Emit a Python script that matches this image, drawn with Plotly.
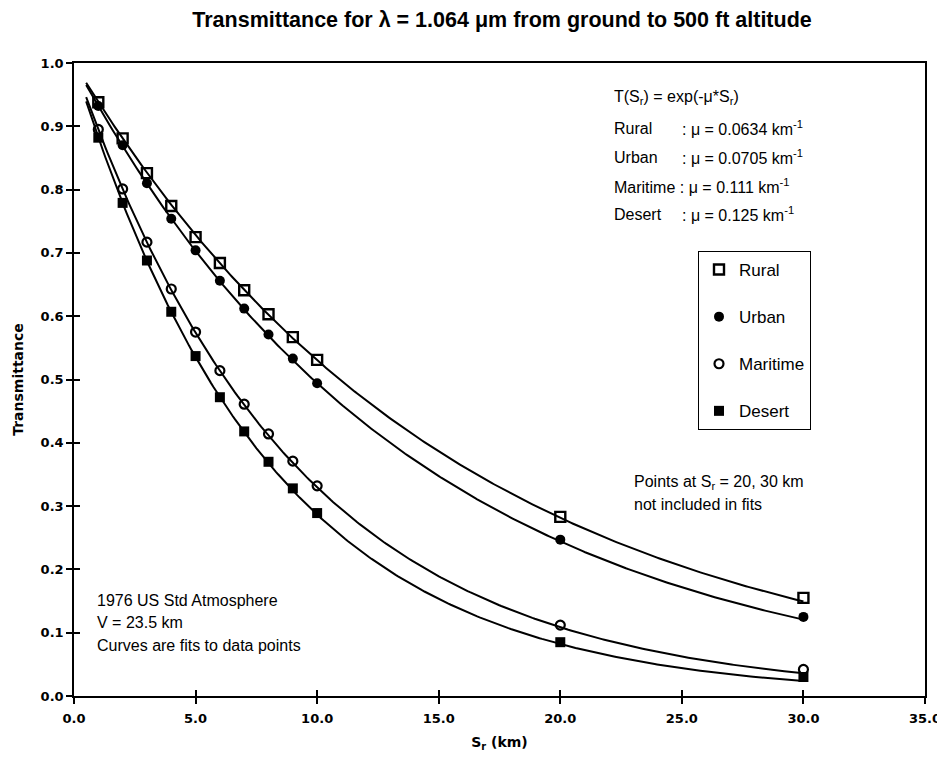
import numpy as np
import plotly.graph_objects as go

# ---- data ----
s_points = [1, 2, 3, 4, 5, 6, 7, 8, 9, 10, 20, 30]
rural = [0.938, 0.881, 0.826, 0.774, 0.725, 0.684, 0.641, 0.603, 0.567, 0.531, 0.283, 0.155]
urban = [0.932, 0.870, 0.810, 0.754, 0.704, 0.656, 0.612, 0.571, 0.533, 0.494, 0.247, 0.125]
maritime = [0.895, 0.801, 0.717, 0.643, 0.575, 0.514, 0.461, 0.414, 0.371, 0.332, 0.112, 0.042]
desert = [0.882, 0.779, 0.688, 0.607, 0.537, 0.472, 0.418, 0.370, 0.328, 0.289, 0.085, 0.030]

series_names = ["Rural", "Urban", "Maritime", "Desert"]
mu_values = [0.0634, 0.0705, 0.111, 0.125]   # fit coefficients stated on the chart (km^-1)
mu_labels = ["0.0634", "0.0705", "0.111", "0.125"]
fit_range = [0.5, 30]

x_ticks = [0, 5, 10, 15, 20, 25, 30, 35]
y_ticks = [0.0, 0.1, 0.2, 0.3, 0.4, 0.5, 0.6, 0.7, 0.8, 0.9, 1.0]

FONT = "Liberation Sans, Arial, sans-serif"
TICKFONT = "DejaVu Sans, Liberation Sans, sans-serif"

fig = go.Figure()

# fitted curves T(S) = exp(-mu*S)
s_fit = np.linspace(fit_range[0], fit_range[1], 300)
for name, mu in zip(series_names, mu_values):
    fig.add_trace(go.Scatter(x=s_fit, y=np.exp(-mu * s_fit), mode="lines",
                             line=dict(color="black", width=2),
                             showlegend=False, hoverinfo="skip"))

marker_styles = {
    "Rural": dict(symbol="square-open", size=10, color="black", line=dict(width=2.4, color="black")),
    "Urban": dict(symbol="circle", size=10, color="black"),
    "Maritime": dict(symbol="circle-open", size=9, color="black", line=dict(width=2.2, color="black")),
    "Desert": dict(symbol="square", size=10, color="black"),
}
for name, vals in zip(series_names, [rural, urban, maritime, desert]):
    fig.add_trace(go.Scatter(x=s_points, y=vals, mode="markers", name=name,
                             legendgroup=name, marker=marker_styles[name]))

# page offset (html body margin)
OFF = 8
W, H = 937, 744
L, R, T, B = 66, 20, 55, 56
pw, ph = W - L - R, H - T - B


def px(x):
    return (x - OFF - L) / pw


def py(y):
    return 1 - (y - OFF - T) / ph


annotations = []
annotations.append((612, 98, "T(S<sub>r</sub>) = exp(-μ*S<sub>r</sub>)"))
row_y = [128, 157, 186, 214]
for name, lab, yy in zip(series_names, mu_labels, row_y):
    if name == "Maritime":
        annotations.append((612, yy, name + " : μ = " + lab + " km<sup>-1</sup>"))
    else:
        annotations.append((612, yy, name))
        annotations.append((680, yy, ": μ = " + lab + " km<sup>-1</sup>"))
for t, yy in zip(["1976 US Std Atmosphere", "V = 23.5 km", "Curves are fits to data points"],
                 [600, 622, 645]):
    annotations.append((95, yy, t))
annotations.append((632, 482, "Points at S<sub>r</sub> = 20, 30 km"))
annotations.append((632, 504, "not included in fits"))

ann_objs = [dict(x=px(x), y=py(y), xref="paper", yref="paper", text=t,
                 showarrow=False, xanchor="left", yanchor="middle",
                 font=dict(family=FONT, size=16, color="black"))
            for x, y, t in annotations]

axis_common = dict(showgrid=False, zeroline=False, showline=True, linecolor="black",
                   linewidth=1.5, ticklen=6, tickwidth=1.5, tickcolor="black",
                   automargin=False)
tickfont = dict(family=TICKFONT, size=13, color="black", weight="bold")

fig.update_layout(
    width=W, height=H,
    margin=dict(l=L, r=R, t=T, b=B, autoexpand=False),
    paper_bgcolor="white", plot_bgcolor="white",
    title=dict(text="<b>Transmittance for λ = 1.064 μm from ground to 500 ft altitude</b>",
               x=(502 - OFF) / W, xanchor="center", y=1 - (19 - OFF) / H, yanchor="middle",
               font=dict(family=FONT, size=21.5, color="black")),
    xaxis=dict(range=[0, 35], tickvals=x_ticks, ticktext=[f"{v:.1f}" for v in x_ticks],
               mirror=True, ticks="outside", tickfont=tickfont, ticklabelstandoff=4,
               title=dict(text="<b>S<sub>r</sub> (km)</b>", standoff=16,
                          font=dict(family=TICKFONT, size=14, color="black")),
               **axis_common),
    yaxis=dict(range=[0, 1.0], tickvals=y_ticks, ticktext=[f"{v:.1f}" for v in y_ticks],
               mirror=True, ticks="outside", tickfont=tickfont,
               title=dict(text="<b>Transmittance</b>", standoff=14,
                          font=dict(family=TICKFONT, size=14, color="black")),
               **axis_common),
    # overlay axes giving the inner half of the crossing ticks
    xaxis2=dict(range=[0, 35], tickvals=x_ticks, overlaying="x", side="bottom",
                ticks="inside", showticklabels=False, anchor="y", **axis_common),
    yaxis2=dict(range=[0, 1.0], tickvals=y_ticks, overlaying="y", side="left",
                ticks="inside", showticklabels=False, anchor="x", **axis_common),
    legend=dict(x=px(698), y=py(251), xanchor="left", yanchor="top",
                bordercolor="black", borderwidth=1, bgcolor="white",
                tracegroupgap=22, itemwidth=30,
                font=dict(family=FONT, size=17, color="black")),
    annotations=ann_objs,
    showlegend=True,
)
# invisible trace to activate overlay axes
fig.add_trace(go.Scatter(x=[None], y=[None], xaxis="x2", yaxis="y2",
                         showlegend=False, hoverinfo="skip"))

fig.write_html("out.html")
